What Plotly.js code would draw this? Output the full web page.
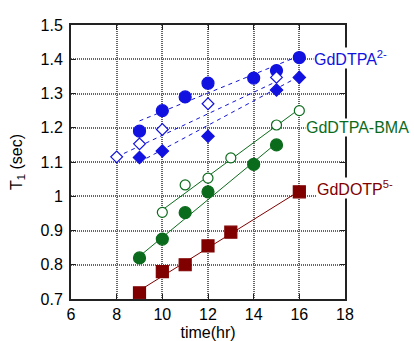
<!DOCTYPE html>
<html>
<head>
<meta charset="utf-8">
<script src="https://cdn.plot.ly/plotly-3.0.1.min.js"></script>
<style>html,body{margin:0;padding:0;background:#fff}#chart{width:414px;height:341px}</style>
</head>
<body>
<div id="chart"></div>
<script>
// GdDTPA2- (filled circles, open diamonds, filled diamonds)
var dtpaCircX = [9, 10, 11, 12, 14, 15, 16];
var dtpaCircY = [1.19, 1.25, 1.29, 1.33, 1.345, 1.367, 1.405];
var dtpaCircFitX = [9, 16];
var dtpaCircFitY = [1.22, 1.41];

var dtpaOpenDiaX = [8, 9, 10, 12, 15];
var dtpaOpenDiaY = [1.115, 1.153, 1.195, 1.27, 1.347];
var dtpaOpenDiaFitX = [8, 15];
var dtpaOpenDiaFitY = [1.115, 1.335];

var dtpaDiaX = [9, 10, 12, 15, 16];
var dtpaDiaY = [1.113, 1.132, 1.175, 1.31, 1.347];
var dtpaDiaFitX = [9, 16];
var dtpaDiaFitY = [1.10, 1.35];

// GdDTPA-BMA (open circles, filled circles)
var bmaOpenX = [10, 11, 12, 13, 15, 16];
var bmaOpenY = [0.953, 1.033, 1.053, 1.112, 1.208, 1.25];
var bmaOpenFitX = [10, 16];
var bmaOpenFitY = [0.96, 1.255];

var bmaFillX = [9, 10, 11, 12, 14, 15];
var bmaFillY = [0.82, 0.875, 0.952, 1.013, 1.093, 1.15];
var bmaFillFitX = [9, 15];
var bmaFillFitY = [0.825, 1.155];

// GdDOTP5- (squares)
var dotpX = [9, 10, 11, 12, 13, 16];
var dotpY = [0.718, 0.78, 0.80, 0.855, 0.895, 1.013];
var dotpFitX = [9, 16];
var dotpFitY = [0.725, 1.015];

var xTicks = [6, 8, 10, 12, 14, 16, 18];
var yTicks = [0.7, 0.8, 0.9, 1, 1.1, 1.2, 1.3, 1.4, 1.5];
var yTickText = ['0.7', '0.8', '0.9', '1', '1.1', '1.2', '1.3', '1.4', '1.5'];

var BLUE = '#1212e0', GREEN = '#0b6b1c', RED = '#800000';

function fit(x, y, color, dash) {
  return {x: x, y: y, mode: 'lines', line: {color: color, width: 1, dash: dash}, hoverinfo: 'skip', cliponaxis: false};
}
function pts(x, y, symbol, size, fill, color) {
  return {x: x, y: y, mode: 'markers', cliponaxis: false,
    marker: {symbol: symbol, size: size, color: fill, line: {color: color, width: 1.2}}};
}

var data = [
  fit(dtpaCircFitX, dtpaCircFitY, BLUE, '4px,4px'),
  fit(dtpaOpenDiaFitX, dtpaOpenDiaFitY, BLUE, '4px,4px'),
  fit(dtpaDiaFitX, dtpaDiaFitY, BLUE, '4px,4px'),
  fit(bmaOpenFitX, bmaOpenFitY, GREEN, 'solid'),
  fit(bmaFillFitX, bmaFillFitY, GREEN, 'solid'),
  fit(dotpFitX, dotpFitY, RED, 'solid'),
  pts(dtpaCircX, dtpaCircY, 'circle', 12, BLUE, BLUE),
  pts(dtpaOpenDiaX, dtpaOpenDiaY, 'diamond', 9, '#ffffff', BLUE),
  pts(dtpaDiaX, dtpaDiaY, 'diamond', 9.5, BLUE, BLUE),
  pts(bmaOpenX, bmaOpenY, 'circle', 10, '#ffffff', GREEN),
  pts(bmaFillX, bmaFillY, 'circle', 12, GREEN, GREEN),
  pts(dotpX, dotpY, 'square', 12, RED, RED)
];

var axisCommon = {
  showline: true, linecolor: '#222', linewidth: 2, mirror: 'ticks',
  ticks: 'inside', ticklen: 5, tickcolor: '#222', tickwidth: 1,
  showgrid: true, gridcolor: '#666', gridwidth: 2, griddash: '1px,1px',
  zeroline: false, tickfont: {family: 'Liberation Sans, Arial', size: 16, color: '#000'}
};

var layout = {
  width: 414, height: 341,
  margin: {l: 71, r: 69, t: 25, b: 42},
  paper_bgcolor: '#fff', plot_bgcolor: '#fff',
  showlegend: false,
  font: {family: 'Liberation Sans, Arial', color: '#000'},
  xaxis: Object.assign({}, axisCommon, {
    range: [6, 18], tickvals: xTicks,
    title: {text: 'time(hr)', font: {size: 16}, standoff: 6}
  }),
  yaxis: Object.assign({}, axisCommon, {
    range: [0.7, 1.5], tickvals: yTicks, ticktext: yTickText,
    ticklabelstandoff: 3,
    title: {text: 'T<sub>1</sub> (sec)', font: {size: 16}, standoff: 14}
  }),
  annotations: [
    {x: 16.6, y: 1.405, xref: 'x', yref: 'y', xanchor: 'left', yanchor: 'middle', showarrow: false,
     text: 'GdDTPA<sup>2-</sup>', font: {size: 16, color: BLUE}, bgcolor: '#fff', borderpad: 0},
    {x: 16.25, y: 1.2, xref: 'x', yref: 'y', xanchor: 'left', yanchor: 'middle', showarrow: false,
     text: 'GdDTPA-BMA', font: {size: 16, color: GREEN}, bgcolor: '#fff', borderpad: 0},
    {x: 16.75, y: 1.025, xref: 'x', yref: 'y', xanchor: 'left', yanchor: 'middle', showarrow: false,
     text: 'GdDOTP<sup>5-</sup>', font: {size: 16, color: RED}, bgcolor: '#fff', borderpad: 0}
  ]
};

Plotly.newPlot('chart', data, layout, {displayModeBar: false, staticPlot: true});
</script>
</body>
</html>
